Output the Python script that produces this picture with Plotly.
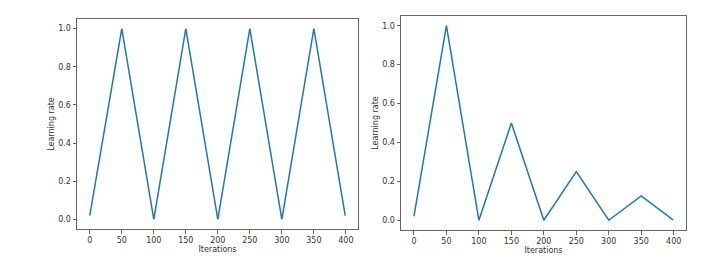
import plotly.graph_objects as go

iters = [0, 50, 100, 150, 200, 250, 300, 350, 399]
lr_triangular = [0.02, 1.0, 0.0, 1.0, 0.0, 1.0, 0.0, 1.0, 0.02]
lr_triangular2 = [0.02, 1.0, 0.0, 0.5, 0.0, 0.25, 0.0, 0.125, 0.0025]
x_ticks = [0, 50, 100, 150, 200, 250, 300, 350, 400]
y_ticks = [0.0, 0.2, 0.4, 0.6, 0.8, 1.0]

W, H = 723, 280
blue = "#1f77b4"
font = dict(family="DejaVu Sans", size=8, color="#333333")

fig = go.Figure()
fig.add_trace(go.Scatter(x=iters, y=lr_triangular, mode="lines",
                         line=dict(color=blue, width=1.5), xaxis="x", yaxis="y"))
fig.add_trace(go.Scatter(x=iters, y=lr_triangular2, mode="lines",
                         line=dict(color=blue, width=1.5), xaxis="x2", yaxis="y2"))

def xax(domain, anchor):
    return dict(domain=domain, anchor=anchor, range=[-19.95, 418.95],
                tickvals=x_ticks, ticks="outside", ticklen=3.5, tickcolor="#666",
                showline=True, linecolor="#666", linewidth=1, mirror=True,
                showgrid=False, zeroline=False, tickfont=font,
                title=dict(text="Iterations", font=font, standoff=0))

def yax(domain, anchor):
    return dict(domain=domain, anchor=anchor, range=[-0.05, 1.05],
                tickvals=y_ticks, tickformat=".1f", ticks="outside", ticklen=3.5,
                tickcolor="#666", showline=True, linecolor="#666", linewidth=1,
                mirror=True, showgrid=False, zeroline=False, tickfont=font,
                title=dict(text="Learning rate", font=font, standoff=2))

fig.update_layout(
    width=W, height=H, autosize=False,
    margin=dict(l=0, r=0, t=0, b=0),
    paper_bgcolor="white", plot_bgcolor="white",
    showlegend=False,
    xaxis=xax([77 / W, 358 / W], "y"),
    yaxis=yax([(H - 229) / H, (H - 19) / H], "x"),
    xaxis2=xax([401 / W, 686 / W], "y2"),
    yaxis2=yax([(H - 230) / H, (H - 16) / H], "x2"),
)

fig.write_html("out.html")
